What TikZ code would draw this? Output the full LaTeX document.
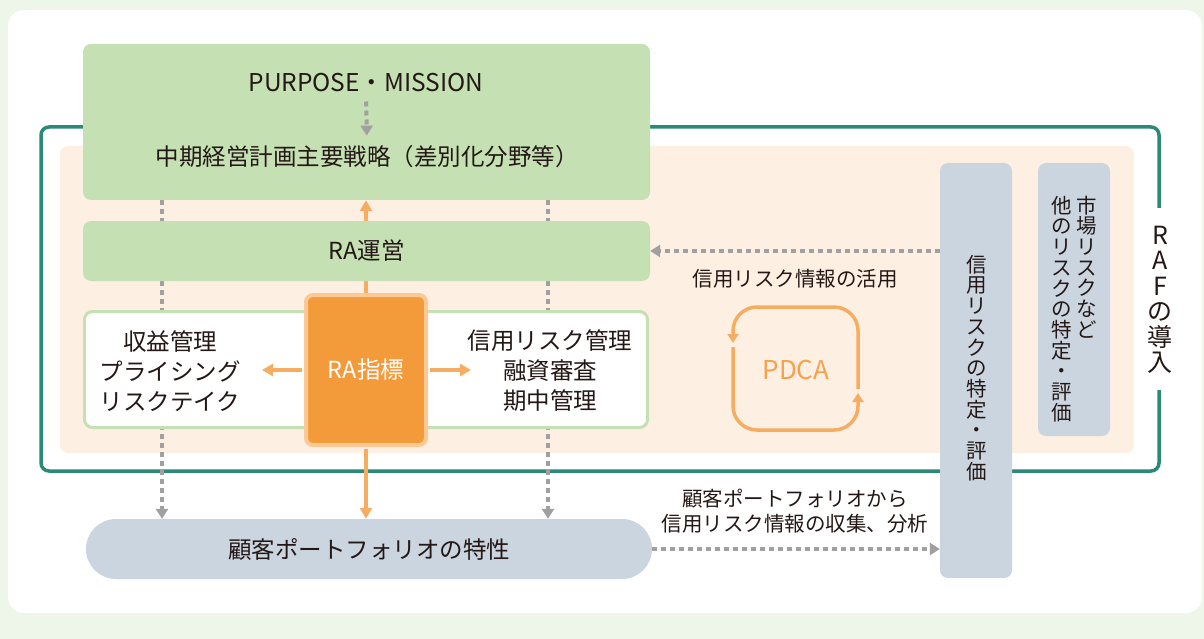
\documentclass[tikz,border=0pt]{standalone}
\usepackage{fontspec}
\setmainfont{Noto Sans CJK JP}
\usetikzlibrary{arrows.meta,calc}
\definecolor{bgout}{HTML}{EEF5E9}
\definecolor{rafteal}{HTML}{2B8A77}
\definecolor{peach}{HTML}{FDF0E3}
\definecolor{lgreen}{HTML}{C5E0B3}
\definecolor{ofill}{HTML}{F39B3A}
\definecolor{oedge}{HTML}{FBC995}
\definecolor{oarrow}{HTML}{F6AD61}
\definecolor{otext}{HTML}{F4A24C}
\definecolor{gdots}{HTML}{A0A0A0}
\definecolor{bgray}{HTML}{CBD5E0}
\definecolor{txt}{HTML}{231815}
\newcommand\myfs[2]{\fontsize{#1}{#2}\selectfont\lineskiplimit=-50pt\relax}
\pgfdeclarelayer{back}
\pgfdeclarelayer{lines}
\pgfsetlayers{back,lines,main}
\begin{document}
\begin{tikzpicture}[x=1pt,y=-1pt,
  gbox/.style={rectangle, rounded corners=8pt, fill=lgreen, inner sep=0pt, text=txt, font=\myfs{23.5pt}{30pt}},
  bbox/.style={rectangle, rounded corners=8pt, fill=bgray, inner sep=0pt},
  lbl/.style={inner sep=0pt, text=txt, font=\myfs{23.5pt}{30pt}, align=center},
  lbls/.style={inner sep=0pt, text=txt, font=\myfs{20.5pt}{25.5pt}, align=center},
  vtxt/.style={inner sep=0pt, text=txt, font=\myfs{20.5pt}{20.7pt}, align=center},
  gdot/.style={draw=gdots, line width=4pt, dash pattern=on 5pt off 4pt, -{Triangle[length=10pt,width=12pt]}},
  oarr/.style={draw=oarrow, line width=3.5pt, -{Triangle[length=11pt,width=12pt]}},
  pdcaline/.style={draw=oarrow, line width=3.5pt, rounded corners=24pt, -{Triangle[length=9pt,width=11pt]}}
]
\useasboundingbox (0,0) rectangle (1204,639);
\begin{pgfonlayer}{back}
  \fill[bgout] (0,0) rectangle (1204,639);
  \fill[white, rounded corners=16pt] (8,10) rectangle (1202,613);
  \draw[rafteal, line width=3.5pt, rounded corners=8pt]
    (1159,208) -- (1159,127) -- (41,127) -- (41,471) -- (1159,471) -- (1159,390);
  \fill[peach, rounded corners=8pt] (60,146) rectangle (1134,453);
\end{pgfonlayer}

% boxes
\node[gbox, minimum width=567pt, minimum height=156pt] (top) at (366.5,122) {};
\node[lbl, font=\myfs{24.5pt}{30pt}] (purpose) at (366,83) {PURPOSE・MISSION};
\node[lbl] (strat) at (367,157) {中期経営計画主要戦略（差別化分野等）};
\node[gbox, minimum width=567pt, minimum height=60pt] (raop) at (366.5,251) {RA運営};
\node[rectangle, rounded corners=8pt, fill=white, draw=lgreen, line width=3pt,
      minimum width=563pt, minimum height=116pt, inner sep=0pt] (wbox) at (366,369.5) {};
\node[lbl] (ltext) at (170,371) {収益管理\\プライシング\\リスクテイク};
\node[lbl] (rtext) at (550,371) {信用リスク管理\\融資審査\\期中管理};
\node[rectangle, rounded corners=7pt, fill=ofill, draw=oedge, line width=4pt,
      minimum width=120pt, minimum height=150pt, inner sep=0pt,
      text=white, font=\myfs{23.5pt}{30pt}] (ra) at (366,370) {RA指標};
\node[bbox, rounded corners=30pt, minimum width=566pt, minimum height=60pt,
      text=txt, font=\myfs{23.5pt}{30pt}] (cust) at (369,549) {顧客ポートフォリオの特性};
\node[bbox, minimum width=72pt, minimum height=415pt] (credit) at (976,370.5) {};
\node[bbox, minimum width=72pt, minimum height=273pt] (market) at (1074,299.5) {};

% vertical texts
\node[vtxt] (credittext) at (977,368) {信\\用\\リ\\ス\\ク\\の\\特\\定\\・\\評\\価};
\node[vtxt] (mkt1) at (1087,267) {市\\場\\リ\\ス\\ク\\な\\ど};
\node[vtxt] (mkt2) at (1062,309) {他\\の\\リ\\ス\\ク\\の\\特\\定\\・\\評\\価};
\node[inner sep=0pt, text=txt, font=\myfs{25pt}{25.5pt}, align=center] (raf) at (1160,300)
  {R\\A\\F\\の\\導\\入};

% labels
\node[lbls] (lab1) at (795,279) {信用リスク情報の活用};
\node[lbls] (lab2) at (795,511) {顧客ポートフォリオから\\信用リスク情報の収集、分析};

% coordinates
\coordinate (gl) at (162,0);
\coordinate (gr) at (548,0);
\coordinate (al) at (262,0);
\coordinate (ar) at (471,0);

\begin{pgfonlayer}{lines}
  \draw[gdot] (top.south -| gl) -- (cust.north -| gl);
  \draw[gdot] (top.south -| gr) -- (cust.north -| gr);
  \draw[oarr] (ra.north) -- (top.south -| ra.north);
  \draw[oarr, shorten <=2pt] (ra.south) -- (cust.north -| ra.south);
\end{pgfonlayer}

% connectors on top
\draw[gdot, shorten <=9pt, shorten >=10pt] (purpose.south) -- (strat.north);
\draw[oarr, shorten <=2pt] (ra.west) -- (ra.west -| al);
\draw[oarr, shorten <=2pt] (ra.east) -- (ra.east -| ar);
\draw[gdot] (credit.west |- raop.east) -- (raop.east);
\draw[gdot] (cust.east) -- (credit.west |- cust.east);

% PDCA cycle
\node[inner sep=0pt, text=otext, font=\myfs{26pt}{30pt}] (pdca) at (796,370) {PDCA};
\draw[pdcaline] (858,389) -- (858,307) -- (733,307) -- (733,343);
\draw[pdcaline] (733,347) -- (733,430) -- (858,430) -- (858,393);
\end{tikzpicture}
\end{document}
